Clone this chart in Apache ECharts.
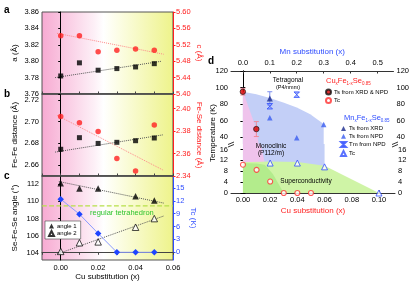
<!DOCTYPE html>
<html><head><meta charset="utf-8">
<script src="https://cdn.jsdelivr.net/npm/echarts@6/dist/echarts.min.js"></script>
<style>html,body{margin:0;padding:0;background:#fff}#c{width:412px;height:287px}</style>
</head><body><div id="c"></div><script>
// ---------- panels a-c data ----------
const cuX = [0, 0.01, 0.02, 0.03, 0.04, 0.05];
const latticeA = [3.782, 3.798, 3.789, 3.791, 3.793, 3.797];
const latticeC = [5.542, 5.542, 5.503, 5.507, 5.510, 5.507];
const fitAX = [-0.003, 0.054], fitAY = [3.780, 3.800];
const fitCX = [-0.002, 0.055], fitCY = [5.548, 5.497];
const feFe = [2.6746, 2.6853, 2.680, 2.681, 2.6825, 2.685];
const feSe = [2.393, 2.3875, 2.3796, 2.3555, 2.3445, 2.3855];
const fitFeFeX = [-0.003, 0.055], fitFeFeY = [2.672, 2.688];
const fitFeSeX = [-0.002, 0.055], fitFeSeY = [2.394, 2.345];
const angleX = [0, 0.01, 0.02, 0.04, 0.05];
const angle1 = [112.1, 111.5, 111.5, 110.6, 110.1];
const angle2 = [104.2, 105.2, 105.3, 107.0, 108.0];
const fitAng1X = [-0.001, 0.055], fitAng1Y = [112.3, 109.8];
const fitAng2X = [-0.003, 0.055], fitAng2Y = [103.8, 108.3];
const tcCu = [12.4, 8.9, 4.4, 0, 0, 0];
const tetraAngle = 109.47;
const cuTicksABC = [0, 0.02, 0.04, 0.06];
const aTicks = [3.76, 3.78, 3.80, 3.82, 3.84, 3.86];
const cTicks = [5.40, 5.44, 5.48, 5.52, 5.56, 5.60];
const feFeTicks = [2.66, 2.68, 2.70, 2.72];
const feSeTicks = [2.34, 2.36, 2.38, 2.40];
const angTicks = [104, 106, 108, 110, 112];
const tcTicks = [0, 3, 6, 9, 12, 15];
// ---------- panel d data ----------
const cuTsX = [0, 0.01], cuTs = [95, 50], cuTsErr = [4, 9];
const cuTcX = [0, 0.01, 0.02, 0.03, 0.04, 0.05], cuTc = [10.4, 8.5, 4.2, 0, 0, 0];
const mnTsXrdX = [0.1], mnTsXrd = [87], mnTsXrdErr = [8];
const mnTsNpdX = [0.1, 0.2, 0.3], mnTsNpd = [63.5, 39.5, 55.5];
const mnTmX = [0.1, 0.2], mnTm = [77.5, 91.5];
const mnTcX = [0.1, 0.2, 0.3, 0.5], mnTc = [11, 11, 9.6, 0];
const tetraRegionMn = [[0,95],[0.05,92],[0.1,87.5],[0.15,82],[0.2,76],[0.25,68],[0.3,56],[0.3,9],[0,9]];
const monoRegionCu = [[0,96],[0.01,50],[0.013,18],[0.0165,10],[0,10]];
const scDomeMn = [[0,11.3],[0.1,11.6],[0.2,11.4],[0.3,10],[0.5,0],[0,0]];
const scDomeCu = [[0,11],[0.01,10.8],[0.016,10.4],[0.022,7],[0.03,0],[0,0]];
const cuTicksD = [0, 0.02, 0.04, 0.06, 0.08, 0.10];
const mnTicksD = [0, 0.1, 0.2, 0.3, 0.4, 0.5];
const tUpperTicks = [40, 60, 80, 100, 120];
const tLowerTicks = [0, 4, 8, 12, 16];

const FONT = 'Liberation Sans';
const RED = '#ff2020', BLUE = '#2f4dff';
const zip = (xs, ys) => xs.map((x, i) => [x, ys[i]]);
const bg = {type:'linear', x:0, y:0, x2:1, y2:0, colorStops:[
  {offset:0, color:'#f7aad2'}, {offset:0.4, color:'#fdf0f7'}, {offset:0.47, color:'#ffffff'},
  {offset:0.58, color:'#fcfde6'}, {offset:1, color:'#eef38a'}]};

function clipHalf(pts, inside, yb) {
  const out = [];
  for (let i = 0; i < pts.length; i++) {
    const a = pts[i], b = pts[(i + 1) % pts.length];
    const ia = inside(a), ib = inside(b);
    if (ia) out.push(a);
    if (ia !== ib) { const t = (yb - a[1]) / (b[1] - a[1]); out.push([a[0] + t * (b[0] - a[0]), yb]); }
  }
  return out;
}
function polySeries(xi, yi, pts, lo, hi, color, z) {
  return {type:'custom', xAxisIndex:xi, yAxisIndex:yi, data:[[0,0]], silent:true, z:z,
    renderItem: (params, api) => {
      let c = clipHalf(pts, p => p[1] >= lo, lo);
      c = clipHalf(c, p => p[1] <= hi, hi);
      return {type:'polygon', shape:{points:c.map(p => api.coord(p))}, style:{fill:color}};
    }};
}
function errSeries(xi, yi, xs, ys, es, color) {
  return {type:'custom', xAxisIndex:xi, yAxisIndex:yi, silent:true, z:4,
    data: xs.map((x, i) => [x, ys[i], es[i]]),
    renderItem: (params, api) => {
      const x = api.value(0), y = api.value(1), e = api.value(2);
      const p1 = api.coord([x, y - e]), p2 = api.coord([x, y + e]);
      const st = {stroke:color, lineWidth:1};
      return {type:'group', children:[
        {type:'line', shape:{x1:p1[0], y1:p1[1], x2:p2[0], y2:p2[1]}, style:st},
        {type:'line', shape:{x1:p1[0]-2.5, y1:p1[1], x2:p1[0]+2.5, y2:p1[1]}, style:st},
        {type:'line', shape:{x1:p2[0]-2.5, y1:p2[1], x2:p2[0]+2.5, y2:p2[1]}, style:st}]};
    }};
}
function vAxis(g, pos, min, max, vals, color, name, gap, dec, extra) {
  return Object.assign({type:'value', gridIndex:g, position:pos, min:min, max:max,
    axisLine:{show:true, lineStyle:{color:color, width:1}},
    axisTick:{show:true, length:2.5, customValues:vals, lineStyle:{color:color}},
    axisLabel:{customValues:vals, color:color, fontSize:7.5, fontFamily:FONT, margin:3,
      formatter: v => (dec === null ? String(v) : v.toFixed(dec))},
    splitLine:{show:false},
    name:name, nameLocation:'middle', nameGap:gap, nameRotate: pos === 'left' ? 90 : -90,
    nameTextStyle:{color:color, fontSize:8, fontFamily:FONT}}, extra || {});
}
function line(xi, yi, xs, ys, color, type, width) {
  return {type:'line', xAxisIndex:xi, yAxisIndex:yi, data:zip(xs, ys), symbol:'none', silent:true,
    lineStyle:{color:color, type:type, width:width || 1}, z:2};
}

const gridABC = {show:true, backgroundColor:bg, borderColor:'#555', borderWidth:1, left:42, width:131};
const hourglass = 'path://M0,0 L10,0 L0,10 L10,10 Z';

const option = {
  animation:false,
  textStyle:{fontFamily:FONT},
  grid:[
    Object.assign({top:12, height:82}, gridABC),
    Object.assign({top:94, height:82}, gridABC),
    Object.assign({top:176, height:84}, gridABC),
    {left:231, width:164, top:71, height:73, show:true, borderWidth:0, backgroundColor:'#fff'},
    {left:231, width:164, top:144, height:49, show:true, borderWidth:0, backgroundColor:'#fff'}
  ],
  xAxis:[
    {type:'value', gridIndex:0, min:-0.01, max:0.06, interval:0.01, axisLabel:{show:false},
      axisLine:{lineStyle:{color:'#444', width:1.5}}, axisTick:{inside:true, length:2.5, lineStyle:{color:'#444'}}, splitLine:{show:false}},
    {type:'value', gridIndex:1, min:-0.01, max:0.06, interval:0.01, axisLabel:{show:false},
      axisLine:{lineStyle:{color:'#444', width:1.5}}, axisTick:{inside:true, length:2.5, lineStyle:{color:'#444'}}, splitLine:{show:false}},
    {type:'value', gridIndex:2, min:-0.01, max:0.06, interval:0.01, splitLine:{show:false},
      axisLine:{lineStyle:{color:'#444', width:1}}, axisTick:{length:2.5, lineStyle:{color:'#444'}},
      axisLabel:{customValues:cuTicksABC, color:'#000', fontSize:7.5, fontFamily:FONT, margin:4, formatter:v=>v.toFixed(2)},
      name:'Cu substitution (x)', nameLocation:'middle', nameGap:13, nameTextStyle:{color:'#000', fontSize:8, fontFamily:FONT}},
    {type:'value', gridIndex:3, min:-0.0088, max:0.1118, show:false},
    {type:'value', gridIndex:3, position:'top', min:-0.044, max:0.559, splitLine:{show:false},
      axisLine:{lineStyle:{color:'#333'}}, axisTick:{customValues:mnTicksD, length:2.5, inside:true, lineStyle:{color:'#333'}},
      axisLabel:{customValues:mnTicksD, color:'#000', fontSize:7.5, fontFamily:FONT, margin:4, formatter:v=>v.toFixed(1)},
      name:'Mn substitution (x)', nameLocation:'middle', nameGap:15, nameTextStyle:{color:BLUE, fontSize:8, fontFamily:FONT}},
    {type:'value', gridIndex:4, position:'bottom', min:-0.0088, max:0.1118, splitLine:{show:false},
      axisLine:{lineStyle:{color:'#333'}}, axisTick:{customValues:cuTicksD, length:2.5, inside:true, lineStyle:{color:'#333'}},
      axisLabel:{customValues:cuTicksD, color:'#000', fontSize:7.5, fontFamily:FONT, margin:3, formatter:v=>v.toFixed(2)},
      name:'Cu substitution (x)', nameLocation:'middle', nameGap:14, nameTextStyle:{color:RED, fontSize:8, fontFamily:FONT}},
    {type:'value', gridIndex:4, position:'top', min:-0.044, max:0.559, show:false}
  ],
  yAxis:[
    vAxis(0, 'left', 3.76, 3.86, aTicks, '#000', 'a (Å)', 23, 2),
    vAxis(0, 'right', 5.40, 5.60, cTicks, RED, 'c (Å)', 22, 2),
    vAxis(1, 'left', 2.65, 2.7255, feFeTicks, '#000', 'Fe-Fe distance (Å)', 23, 2),
    vAxis(1, 'right', 2.34, 2.413, feSeTicks, RED, 'Fe-Se distance (Å)', 22, 2),
    vAxis(2, 'left', 103.2, 112.94, angTicks, '#000', 'Se-Fe-Se angle (°)', 23, null),
    vAxis(2, 'right', -1.8, 17.8, tcTicks, BLUE, 'Tc (K)', 16, null),
    vAxis(3, 'left', 32, 120, tUpperTicks, '#000', '', 0, null),
    vAxis(3, 'right', 32, 120, tUpperTicks, '#000', '', 0, null),
    vAxis(4, 'left', 0, 18, tLowerTicks, '#000', '', 0, null),
    vAxis(4, 'right', 0, 18, tLowerTicks, '#000', '', 0, null)
  ],
  legend:[
    {data:['angle 1','angle 2'], left:45, top:221, orient:'vertical', selectedMode:false,
      itemWidth:5, itemHeight:5, itemGap:1, padding:[2,4,2,3], borderColor:'#444', borderWidth:0.6, backgroundColor:'#fff',
      textStyle:{fontSize:6, fontFamily:FONT, color:'#000', padding:[0,0,0,-2]}},
    {data:['Ts from XRD & NPD','Tc'], left:325, top:88.5, orient:'vertical', selectedMode:false,
      itemWidth:5, itemHeight:5, itemGap:1.5, padding:0, textStyle:{fontSize:6, fontFamily:FONT, color:'#000', padding:[0,0,0,-2]}},
    {data:['Ts from XRD','Ts from NPD','Tm from NPD','Tc '], left:340, top:125.5, orient:'vertical', selectedMode:false,
      itemWidth:5, itemHeight:5, itemGap:1.8, padding:0, textStyle:{fontSize:6, fontFamily:FONT, color:'#000', padding:[0,0,0,-2]}}
  ],
  series:[
    // panel a
    line(0, 0, fitAX, fitAY, '#555', 'dotted'),
    line(0, 1, fitCX, fitCY, '#ff8a8a', 'dotted'),
    {type:'scatter', name:'a', xAxisIndex:0, yAxisIndex:0, data:zip(cuX, latticeA), symbol:'rect', symbolSize:5, itemStyle:{color:'#000'}, z:5},
    {type:'scatter', name:'c', xAxisIndex:0, yAxisIndex:1, data:zip(cuX, latticeC), symbol:'circle', symbolSize:5.5, itemStyle:{color:RED}, z:5},
    // panel b
    line(1, 2, fitFeFeX, fitFeFeY, '#555', 'dotted'),
    line(1, 3, fitFeSeX, fitFeSeY, '#ff8a8a', 'dotted'),
    {type:'scatter', name:'FeFe', xAxisIndex:1, yAxisIndex:2, data:zip(cuX, feFe), symbol:'rect', symbolSize:5, itemStyle:{color:'#000'}, z:5},
    {type:'scatter', name:'FeSe', xAxisIndex:1, yAxisIndex:3, data:zip(cuX, feSe), symbol:'circle', symbolSize:5.5, itemStyle:{color:RED}, z:5},
    // panel c
    line(2, 4, [-0.01, 0.06], [tetraAngle, tetraAngle], '#b7e04a', 'dashed', 1.2),
    line(2, 4, fitAng1X, fitAng1Y, '#555', 'dotted'),
    line(2, 4, fitAng2X, fitAng2Y, '#555', 'dotted'),
    {type:'line', name:'Tc c', xAxisIndex:2, yAxisIndex:5, data:zip(cuX, tcCu), symbol:'diamond', symbolSize:6.5,
      itemStyle:{color:'#1f45ff'}, lineStyle:{color:'#8c9cff', width:1}, z:4},
    {type:'scatter', name:'angle 1', xAxisIndex:2, yAxisIndex:4, data:zip(angleX, angle1), symbol:'triangle', symbolSize:6.5, itemStyle:{color:'#000'}, z:5},
    {type:'scatter', name:'angle 2', xAxisIndex:2, yAxisIndex:4, data:zip(angleX, angle2), symbol:'triangle', symbolSize:6.5,
      itemStyle:{color:'#fff', borderColor:'#000', borderWidth:0.9}, z:5},
    // panel d regions (upper and lower segments)
    polySeries(4, 6, tetraRegionMn, 32, 120, '#c3cff7', 1),
    polySeries(6, 8, tetraRegionMn, 0, 18, '#c3cff7', 1),
    polySeries(3, 6, monoRegionCu, 32, 120, '#efc3ec', 2),
    polySeries(5, 8, monoRegionCu, 0, 18, '#efc3ec', 2),
    polySeries(6, 8, scDomeMn, 0, 18, '#cff4a6', 3),
    polySeries(5, 8, scDomeCu, 0, 18, '#b3ec8c', 3),
    errSeries(3, 6, cuTsX, cuTs, cuTsErr, '#f08a9a'),
    errSeries(4, 6, mnTsXrdX, mnTsXrd, mnTsXrdErr, '#7d8ff0'),
    {type:'scatter', name:'Ts from XRD & NPD', xAxisIndex:3, yAxisIndex:6, data:zip(cuTsX, cuTs), symbol:'circle', symbolSize:5.5,
      itemStyle:{color:'#d80000', borderColor:'#111', borderWidth:0.8}, z:6},
    {type:'scatter', name:'Tc', xAxisIndex:5, yAxisIndex:8, data:zip(cuTcX, cuTc), symbol:'circle', symbolSize:5,
      itemStyle:{color:'#fff', borderColor:'#ff3030', borderWidth:1.1}, z:6},
    {type:'scatter', name:'Ts from XRD', xAxisIndex:4, yAxisIndex:6, data:zip(mnTsXrdX, mnTsXrd), symbol:'triangle', symbolSize:6,
      itemStyle:{color:'#1a2a8c'}, z:6},
    {type:'scatter', name:'Ts from NPD', xAxisIndex:4, yAxisIndex:6, data:zip(mnTsNpdX, mnTsNpd), symbol:'triangle', symbolSize:5.5,
      itemStyle:{color:'#3a5cf0'}, z:6},
    {type:'scatter', name:'Tm from NPD', xAxisIndex:4, yAxisIndex:6, data:zip(mnTmX, mnTm), symbol:hourglass, symbolSize:5.5,
      itemStyle:{color:'#8fa2f5', borderColor:'#2f4dff', borderWidth:1}, z:6},
    {type:'scatter', name:'Tc ', xAxisIndex:6, yAxisIndex:8, data:zip(mnTcX, mnTc), symbol:'triangle', symbolSize:6,
      itemStyle:{color:'#fff', borderColor:'#2f4dff', borderWidth:1}, z:6}
  ],
  graphic:[
    {type:'text', left:4, top:5, style:{text:'a', fontSize:10, fontWeight:'bold', fontFamily:FONT, fill:'#000'}},
    {type:'text', left:4, top:89, style:{text:'b', fontSize:10, fontWeight:'bold', fontFamily:FONT, fill:'#000'}},
    {type:'text', left:4, top:171, style:{text:'c', fontSize:10, fontWeight:'bold', fontFamily:FONT, fill:'#000'}},
    {type:'text', left:208, top:56, style:{text:'d', fontSize:10, fontWeight:'bold', fontFamily:FONT, fill:'#000'}},
    {type:'text', x:90, y:209, z:10, style:{text:'regular tetrahedron', fontSize:7.5, fontFamily:FONT, fill:'#2fc42f'}},
    {type:'text', x:213, y:133, rotation:Math.PI/2, z:10,
      style:{text:'Temperature (K)', fontSize:8, fontFamily:FONT, fill:'#000', align:'center', verticalAlign:'middle'}},
    {type:'text', x:288, y:80, z:10, style:{text:'Tetragonal', fontSize:6.5, fontFamily:FONT, fill:'#000', align:'center', verticalAlign:'middle'}},
    {type:'text', x:288, y:87.5, z:10, style:{text:'(P4/nmm)', fontSize:5.5, fontFamily:FONT, fill:'#000', align:'center', verticalAlign:'middle'}},
    {type:'text', x:271, y:146, z:10, style:{text:'Monoclinic', fontSize:6.5, fontFamily:FONT, fill:'#000', align:'center', verticalAlign:'middle'}},
    {type:'text', x:271, y:153.5, z:10, style:{text:'(P112/m)', fontSize:6.5, fontFamily:FONT, fill:'#000', align:'center', verticalAlign:'middle'}},
    {type:'text', x:306, y:181, z:10, style:{text:'Superconductivity', fontSize:6.5, fontFamily:FONT, fill:'#000', align:'center', verticalAlign:'middle'}},
    {type:'text', x:326, y:76, z:10, style:{text:'Cu{s|x}Fe{s|1-x}Se{s|0.85}', fontFamily:FONT, fill:RED,
      rich:{s:{fontSize:4.5, fill:RED, fontFamily:FONT, verticalAlign:'bottom', lineHeight:5, padding:[4,0,0,0]}}, fontSize:7.5, lineHeight:10}},
    {type:'text', x:344, y:113, z:10, style:{text:'Mn{s|x}Fe{s|1-x}Se{s|0.85}', fontFamily:FONT, fill:BLUE,
      rich:{s:{fontSize:4.5, fill:BLUE, fontFamily:FONT, verticalAlign:'bottom', lineHeight:5, padding:[4,0,0,0]}}, fontSize:7.5, lineHeight:10}},
    // axis break marks
    {type:'rect', shape:{x:228, y:143, width:6, height:3}, style:{fill:'#fff'}, z:20},
    {type:'line', shape:{x1:228, y1:144.5, x2:234, y2:142}, style:{stroke:'#000', lineWidth:0.8}, z:21},
    {type:'line', shape:{x1:228, y1:147, x2:234, y2:144.5}, style:{stroke:'#000', lineWidth:0.8}, z:21},
    {type:'rect', shape:{x:392, y:143, width:6, height:3}, style:{fill:'#fff'}, z:20},
    {type:'line', shape:{x1:392, y1:144.5, x2:398, y2:142}, style:{stroke:'#000', lineWidth:0.8}, z:21},
    {type:'line', shape:{x1:392, y1:147, x2:398, y2:144.5}, style:{stroke:'#000', lineWidth:0.8}, z:21}
  ]
};
const chart = echarts.init(document.getElementById('c'), null, {renderer:'canvas'});
chart.setOption(option);
</script></body></html>
